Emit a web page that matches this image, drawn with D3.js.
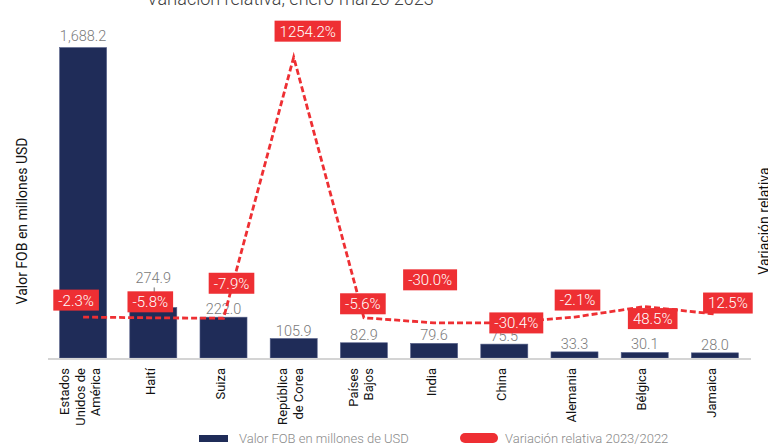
<!DOCTYPE html>
<html>
<head>
<meta charset="utf-8">
<script src="https://cdn.jsdelivr.net/npm/d3@7"></script>
<style>
  body { margin: 0; background: #fff; }
  svg { display: block; font-family: Roboto, "Noto Sans", sans-serif; }
</style>
</head>
<body>
<div id="chart"></div>
<script>
// chart data
const countries = [
  ["Estados", "Unidos de", "América"],
  ["Haití"],
  ["Suiza"],
  ["República", "de Corea"],
  ["Países", "Bajos"],
  ["India"],
  ["China"],
  ["Alemania"],
  ["Bélgica"],
  ["Jamaica"]
];
const fobValues = [1688.2, 274.9, 222.0, 105.9, 82.9, 79.6, 75.5, 33.3, 30.1, 28.0];
const variation = [-2.3, -5.8, -7.9, 1254.2, -5.6, -30.0, -30.4, -2.1, 48.5, 12.5];

// label nudges (px) for the red variation labels, as they were placed by hand
const varLabelNudge = [[-7, -17], [-3, -16], [8, -35], [14, -26], [-1, -14],
                       [-4, -43], [12, 0], [3, -17], [8, 12], [13, -11]];
// extra lift for a couple of value labels
const valueLift = [4, 21, 0, 0, 0, 0, 0, 0, 0, 0];

const width = 768, height = 445;
const plot = {left: 48, right: 750, top: 27, bottom: 358};

const navy = "#1f2c58", red = "#ee2f33";

const svg = d3.select("#chart")
  .append("svg")
    .attr("width", width)
    .attr("height", height);

const idx = d3.range(countries.length);

const xScale = d3.scaleBand()
  .domain(idx)
  .range([plot.left, plot.right])
  .paddingInner(0.33)
  .paddingOuter(0.165);

const yScale = d3.scaleLinear()
  .domain([0, 1800])
  .range([plot.bottom, plot.top]);

const y2Scale = d3.scaleLinear()
  .domain([-200, 1400])
  .range([plot.bottom, plot.top]);

// title (mostly cut off at the top)
const title = svg.append("text")
  .attr("x", 293)
  .attr("y", 5)
  .attr("text-anchor", "middle")
  .style("font-size", "18px")
  .style("font-weight", 300)
  .style("fill", "#404040")
  .text("Variación relativa, enero-marzo 2023");
title.append("tspan")
  .attr("dy", -7)
  .style("font-size", "10px")
  .text("p");

// bars
svg.selectAll(".bar")
  .data(idx)
  .enter()
  .append("rect")
    .attr("class", "bar")
    .attr("x", i => xScale(i))
    .attr("y", i => yScale(fobValues[i]))
    .attr("width", xScale.bandwidth())
    .attr("height", i => plot.bottom - yScale(fobValues[i]))
    .attr("fill", navy)
    .attr("stroke", "#56618a")
    .attr("stroke-width", 0.6);

// x axis line
svg.append("line")
  .attr("x1", plot.left)
  .attr("x2", plot.right + 1)
  .attr("y1", plot.bottom + 1)
  .attr("y2", plot.bottom + 1)
  .attr("stroke", "#d4d4d4")
  .attr("stroke-width", 2);

// value labels above bars
svg.selectAll(".val")
  .data(idx)
  .enter()
  .append("text")
    .attr("class", "val")
    .attr("x", i => xScale(i) + xScale.bandwidth() / 2)
    .attr("y", i => yScale(fobValues[i]) - 3 - valueLift[i])
    .attr("text-anchor", "middle")
    .style("font-size", "14.5px")
    .style("font-weight", 300)
    .style("fill", "#7a7a7a")
    .text(i => d3.format(",.1f")(fobValues[i]));

// small leader line for Haití label
svg.append("line")
  .attr("x1", xScale(1) + xScale.bandwidth() / 2 + 1)
  .attr("x2", xScale(1) + xScale.bandwidth() / 2 + 1)
  .attr("y1", yScale(fobValues[1]) - 20)
  .attr("y2", yScale(fobValues[1]) - 14)
  .attr("stroke", "#9a9a9a")
  .attr("stroke-width", 1.5);

// variation line
const line = d3.line()
  .x(i => xScale(i) + xScale.bandwidth() / 2)
  .y(i => y2Scale(variation[i]));

svg.append("path")
  .datum(idx)
  .attr("d", line)
  .attr("fill", "none")
  .attr("stroke", red)
  .attr("stroke-width", 2.8)
  .attr("stroke-dasharray", "6,3");

// variation labels (plain hyphen as minus sign)
const fmtPct = v => d3.format(".1f")(v).replace("\u2212", "-") + "%";
const varLabels = svg.selectAll(".varlab")
  .data(idx)
  .enter()
  .append("g")
    .attr("class", "varlab")
    .attr("transform", i => "translate(" +
      (xScale(i) + xScale.bandwidth() / 2 + varLabelNudge[i][0]) + "," +
      (y2Scale(variation[i]) + varLabelNudge[i][1]) + ")");

varLabels.append("text")
  .attr("text-anchor", "middle")
  .attr("dy", "0.36em")
  .style("font-size", "15px")
  .style("font-weight", 300)
  .style("fill", "#fff")
  .text(i => fmtPct(variation[i]));

varLabels.each(function() {
  const g = d3.select(this);
  const bb = g.select("text").node().getBBox();
  g.insert("rect", "text")
    .attr("x", bb.x - 5)
    .attr("y", -10.5)
    .attr("width", bb.width + 10)
    .attr("height", 21)
    .attr("fill", red);
});

// category labels (rotated)
const catG = svg.selectAll(".cat")
  .data(idx)
  .enter()
  .append("g")
    .attr("class", "cat");

catG.each(function(i) {
  const lines = countries[i];
  const n = lines.length;
  const cx = xScale(i) + xScale.bandwidth() / 2;
  lines.forEach((t, j) => {
    d3.select(this).append("text")
      .attr("transform", "translate(" + (cx + 1.5 + (j - (n - 1) / 2) * 15.5) + ",368) rotate(-90)")
      .attr("text-anchor", "end")
      .style("font-size", "13px")
      .style("fill", "#111")
      .text(t);
  });
});

// y axis titles
svg.append("text")
  .attr("transform", "translate(27,221) rotate(-90)")
  .attr("text-anchor", "middle")
  .style("font-size", "14px")
  .style("fill", "#111")
  .text("Valor FOB en millones USD");

svg.append("text")
  .attr("transform", "translate(769,221) rotate(-90)")
  .attr("text-anchor", "middle")
  .style("font-size", "14px")
  .style("fill", "#111")
  .text("Variación relativa");

// legend
svg.append("rect")
  .attr("x", 199)
  .attr("y", 435)
  .attr("width", 29)
  .attr("height", 7)
  .attr("fill", navy);

svg.append("text")
  .attr("x", 239)
  .attr("y", 443)
  .style("font-size", "13px")
  .style("font-weight", 300)
  .style("fill", "#8a8a8a")
  .text("Valor FOB en millones de USD");

svg.append("rect")
  .attr("x", 460)
  .attr("y", 433)
  .attr("width", 38)
  .attr("height", 10)
  .attr("rx", 5)
  .attr("fill", red);

svg.append("text")
  .attr("x", 505)
  .attr("y", 443)
  .style("font-size", "13px")
  .style("font-weight", 300)
  .style("fill", "#8a8a8a")
  .text("Variación relativa 2023/2022");
</script>
</body>
</html>
